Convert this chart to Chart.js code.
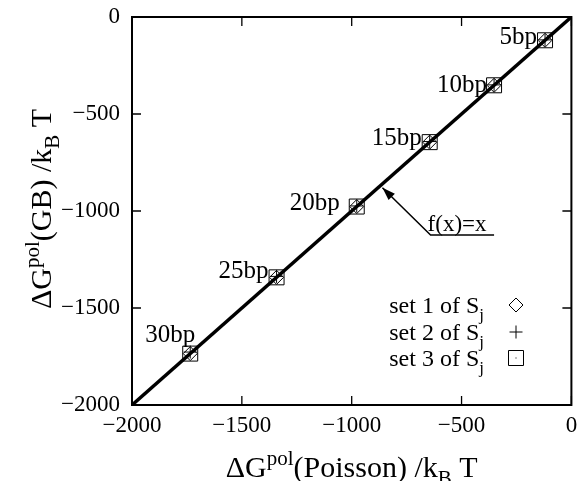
<!DOCTYPE html>
<html><head><meta charset="utf-8">
<script src="https://cdn.jsdelivr.net/npm/chart.js@4.4.0/dist/chart.umd.min.js"></script>
<style>html,body{margin:0;padding:0;background:#fff}#w{width:583px;height:481px;position:relative}</style>
</head><body><div id="w"><canvas id="c"></canvas></div>
<script>
// ---- data ----
const sizes = ['5bp', '10bp', '15bp', '20bp', '25bp', '30bp'];
const poisson = [-120, -352, -645, -977, -1342, -1735];
const gbSet1 = [-120, -352, -645, -977, -1342, -1735];
const gbSet2 = [-118, -350, -642, -974, -1337, -1727];
const gbSet3 = [-120, -352, -645, -977, -1342, -1735];
const identityX = [-2000, 0];
const identityY = [-2000, 0];
const xTicks = [-2000, -1500, -1000, -500, 0];
const yTicks = [-2000, -1500, -1000, -500, 0];
const legendNames = ['set 1 of S', 'set 2 of S', 'set 3 of S'];
const fxLabel = 'f(x)=x';

// ---- layout (not data) ----
const labelDx = [-8, -7, -8, -17, -8, 5];
const labelDy = [4, 7, 3, 3, 1, -12];
const arrowTip = {x: -860, y: -880};
const arrowTail = {x: -641, y: -1124};
const underlineEnd = -352;

const FONT = '"Liberation Serif", "Times New Roman", serif';
const pts = (xs, ys) => xs.map((x, i) => ({x, y: ys[i]}));
const minus = v => String(v).replace('-', '\u2212');

function rich(ctx, segs, x, y, align, size) {
  const f = k => (k ? Math.round(size * 0.7) : size) + 'px ' + FONT;
  let w = 0;
  for (const [t, k] of segs) { ctx.font = f(k); w += ctx.measureText(t).width; }
  let cx = align === 'center' ? x - w / 2 : align === 'right' ? x - w : x;
  ctx.textAlign = 'left'; ctx.textBaseline = 'alphabetic';
  for (const [t, k] of segs) {
    ctx.font = f(k);
    const dy = k === 1 ? -size * 0.4 : k === 2 ? size * 0.28 : 0;
    ctx.fillText(t, cx, y + dy);
    cx += ctx.measureText(t).width;
  }
}

const decor = {
  id: 'decor',
  afterDatasetsDraw(chart) {
    const {ctx, chartArea: a, scales: {x, y}} = chart;
    ctx.save();
    ctx.strokeStyle = '#000'; ctx.fillStyle = '#000';
    // frame
    ctx.lineWidth = 2;
    ctx.strokeRect(a.left, a.top, a.right - a.left, a.bottom - a.top);
    // inner ticks, mirrored
    ctx.lineWidth = 1.3;
    const tl = 9;
    ctx.beginPath();
    xTicks.forEach(v => { const p = x.getPixelForValue(v);
      ctx.moveTo(p, a.bottom); ctx.lineTo(p, a.bottom - tl);
      ctx.moveTo(p, a.top); ctx.lineTo(p, a.top + tl); });
    yTicks.forEach(v => { const p = y.getPixelForValue(v);
      ctx.moveTo(a.left, p); ctx.lineTo(a.left + tl, p);
      ctx.moveTo(a.right, p); ctx.lineTo(a.right - tl, p); });
    ctx.stroke();
    // point labels
    ctx.font = '25px ' + FONT; ctx.textAlign = 'right'; ctx.textBaseline = 'alphabetic';
    sizes.forEach((s, i) => {
      ctx.fillText(s, x.getPixelForValue(poisson[i]) + labelDx[i], y.getPixelForValue(gbSet1[i]) + labelDy[i]);
    });
    // legend
    const rows = [305, 332, 358], mx = 516;
    legendNames.forEach((n, i) => {
      rich(ctx, [[n, 0], ['j', 2]], 484, rows[i] + 8, 'right', 24);
    });
    ctx.lineWidth = 1;
    ctx.beginPath();
    ctx.moveTo(mx, rows[0] - 7); ctx.lineTo(mx + 7, rows[0]); ctx.lineTo(mx, rows[0] + 7); ctx.lineTo(mx - 7, rows[0]); ctx.closePath();
    ctx.moveTo(mx - 6.5, rows[1]); ctx.lineTo(mx + 6.5, rows[1]);
    ctx.moveTo(mx, rows[1] - 6.5); ctx.lineTo(mx, rows[1] + 6.5);
    ctx.rect(mx - 7.5, rows[2] - 7.5, 15, 15);
    ctx.stroke();
    ctx.fillRect(mx - 0.5, rows[2] - 0.5, 1, 1);
    // arrow annotation
    const tx = x.getPixelForValue(arrowTip.x), ty = y.getPixelForValue(arrowTip.y);
    const sx = x.getPixelForValue(arrowTail.x), sy = y.getPixelForValue(arrowTail.y);
    const ex = x.getPixelForValue(underlineEnd);
    ctx.lineWidth = 1.5;
    ctx.beginPath(); ctx.moveTo(ex, sy); ctx.lineTo(sx, sy); ctx.lineTo(tx, ty); ctx.stroke();
    const ang = Math.atan2(ty - sy, tx - sx), hl = 13, hw = 4.5;
    ctx.beginPath();
    ctx.moveTo(tx, ty);
    ctx.lineTo(tx - hl * Math.cos(ang) + hw * Math.sin(ang), ty - hl * Math.sin(ang) - hw * Math.cos(ang));
    ctx.lineTo(tx - hl * Math.cos(ang) - hw * Math.sin(ang), ty - hl * Math.sin(ang) + hw * Math.cos(ang));
    ctx.closePath(); ctx.fill();
    ctx.font = '23px ' + FONT; ctx.textAlign = 'left';
    ctx.fillText(fxLabel, sx - 3, sy - 4);
    // axis titles
    rich(ctx, [['\u0394G', 0], ['pol', 1], ['(Poisson) /k', 0], ['B', 2], [' T', 0]], (a.left + a.right) / 2, 477, 'center', 30);
    ctx.save();
    ctx.translate(51, (a.top + a.bottom) / 2 - 2);
    ctx.rotate(-Math.PI / 2);
    rich(ctx, [['\u0394G', 0], ['pol', 1], ['(GB) /k', 0], ['B', 2], [' T', 0]], 0, 0, 'center', 30);
    ctx.restore();
    ctx.restore();
  }
};

const tickFont = {family: FONT, size: 23};
const noPad = s => { s.paddingTop = 0; s.paddingBottom = 0; s.paddingLeft = 0; s.paddingRight = 0; };
new Chart(document.getElementById('c'), {
  type: 'scatter',
  data: {
    datasets: [
      {type: 'line', data: pts(identityX, identityY), borderColor: '#000', borderWidth: 3.5, pointRadius: 0, order: 0},
      {data: pts(poisson, gbSet1), pointStyle: 'rectRot', pointRadius: 7, borderColor: '#000', borderWidth: 1, backgroundColor: 'rgba(0,0,0,0)', order: 1},
      {data: pts(poisson, gbSet2), pointStyle: 'cross', pointRadius: 6.5, borderColor: '#000', borderWidth: 1, order: 1},
      {data: pts(poisson, gbSet3), pointStyle: 'rect', pointRadius: 10.6, borderColor: '#000', borderWidth: 1, backgroundColor: 'rgba(0,0,0,0)', order: 1},
      {data: pts(poisson, gbSet3), pointStyle: 'circle', pointRadius: 0.7, borderWidth: 0, backgroundColor: '#000', order: 1}
    ]
  },
  options: {
    responsive: true, maintainAspectRatio: false, animation: false,
    layout: {padding: {top: 17, right: 6, left: 0, bottom: 0}},
    plugins: {legend: {display: false}, tooltip: {enabled: false}},
    elements: {point: {hoverRadius: 0}},
    scales: {
      x: {type: 'linear', min: -2000, max: 0,
        afterBuildTicks: s => { s.ticks = xTicks.map(v => ({value: v})); },
        afterFit: s => { s.height = 76; noPad(s); },
        grid: {display: false, drawTicks: false}, border: {display: false},
        ticks: {font: tickFont, color: '#000', padding: 7, maxRotation: 0, autoSkip: false, callback: minus}},
      y: {type: 'linear', min: -2000, max: 0,
        afterBuildTicks: s => { s.ticks = yTicks.map(v => ({value: v})); },
        afterFit: s => { s.width = 132; noPad(s); },
        grid: {display: false, drawTicks: false}, border: {display: false},
        ticks: {font: tickFont, color: '#000', padding: 12, autoSkip: false, callback: minus}}
    }
  },
  plugins: [decor]
});
</script>
</body></html>
